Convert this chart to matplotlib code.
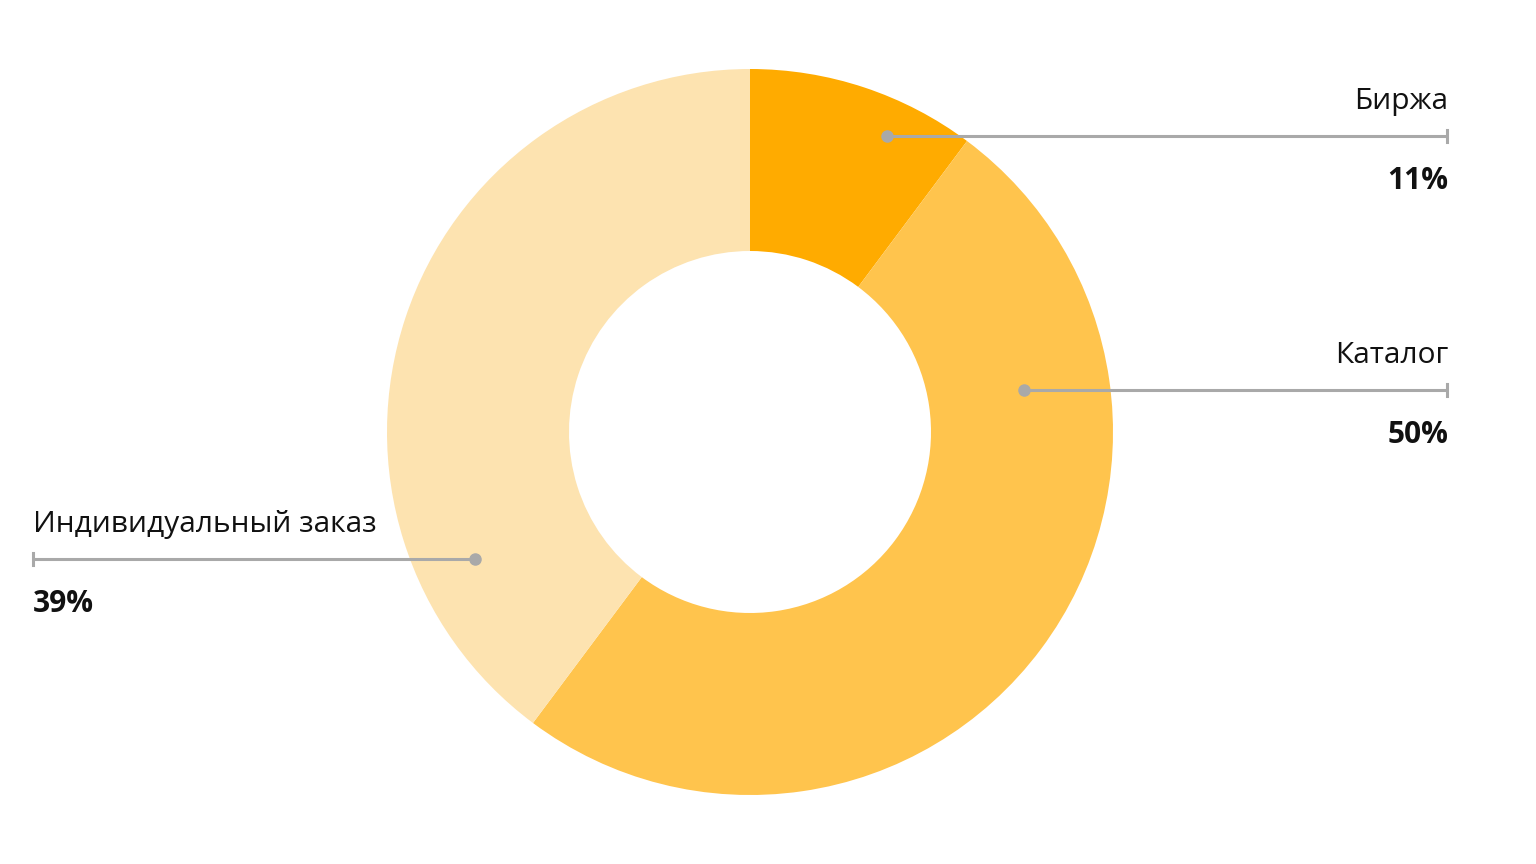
import matplotlib
matplotlib.use("Agg")
import matplotlib.pyplot as plt

# data: slice sizes as drawn, and the percentage labels as printed
labels = ["Биржа", "Каталог", "Индивидуальный заказ"]
shares = [10.2, 50.0, 39.8]
pct_text = ["11%", "50%", "39%"]
colors = ["#FFAB00", "#FFC44D", "#FDE3B0"]

# layout (pixel coords, y going down)
W, H = 1536, 864
cx, cy = 750, 432
r_out, r_in = 363, 181
# (dot x, line y, text x, side)
callouts = [
    (887, 136, 1447, "right"),
    (1024, 390, 1447, "right"),
    (475, 559, 33, "left"),
]

plt.rcParams["font.family"] = ["Open Sans", "DejaVu Sans"]

fig = plt.figure(figsize=(W / 100, H / 100), dpi=100)
ax = fig.add_axes([0, 0, 1, 1])
ax.axis("off")

# y axis is inverted, so -90 is the top and counterclock runs clockwise on screen
ax.pie(shares, colors=colors, center=(cx, cy), radius=r_out,
       startangle=-90, counterclock=True,
       wedgeprops=dict(width=r_out - r_in, linewidth=0))
ax.set_xlim(0, W)
ax.set_ylim(H, 0)
ax.set_aspect("equal")

line_col = "#A9A9A9"
for lab, pct, (dx, ly, tx, side) in zip(labels, pct_text, callouts):
    ax.plot([dx, tx], [ly, ly], color=line_col, lw=2.2, solid_capstyle="butt", zorder=3)
    ax.plot([tx, tx], [ly - 6, ly + 6], color=line_col, lw=2.2, zorder=3)
    ax.plot(dx, ly, "o", color=line_col, ms=8, zorder=4)
    ha = "right" if side == "right" else "left"
    ax.text(tx + (1 if side == "right" else 0), ly - 27, lab, ha=ha, va="baseline",
            fontsize=21.5, color="#111111")
    ax.text(tx + (1 if side == "right" else 0), ly + 53, pct, ha=ha, va="baseline",
            fontsize=21.5, fontweight="bold", color="#111111")

fig.savefig("out.png", dpi=100, facecolor="white")
